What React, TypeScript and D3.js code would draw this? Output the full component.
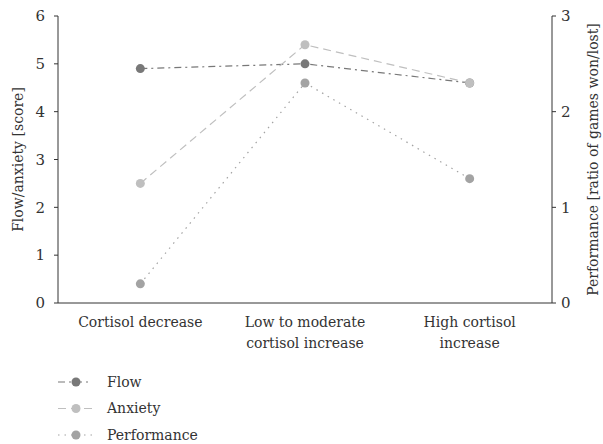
import React from "react";
import * as d3 from "d3";

const categories: string[][] = [
  ["Cortisol decrease"],
  ["Low to moderate", "cortisol increase"],
  ["High cortisol", "increase"],
];
const flowValues = [4.9, 5.0, 4.6];
const anxietyValues = [2.5, 5.4, 4.6];
const performanceValues = [0.2, 2.3, 1.3];
const leftTicks = [0, 1, 2, 3, 4, 5, 6];
const rightTicks = [0, 1, 2, 3];

const W = 603;
const H = 444;
const left = 58;
const right = 552;
const top = 16;
const bottom = 303;
const FONT = "'DejaVu Serif', 'Liberation Serif', 'Times New Roman', Times, serif";

export default function App() {
  const x = d3
    .scaleBand<number>()
    .domain(categories.map((_, i) => i))
    .range([left, right]);
  const yL = d3.scaleLinear().domain([0, 6]).range([bottom, top]);
  const yR = d3.scaleLinear().domain([0, 3]).range([bottom, top]);
  const cx = (i: number) => (x(i) as number) + x.bandwidth() / 2;

  const series = [
    { name: "Flow", values: flowValues, y: yL, color: "#787878", dash: "7,4,2,4" },
    { name: "Performance", values: performanceValues, y: yR, color: "#a3a3a3", dash: "1.5,5" },
    { name: "Anxiety", values: anxietyValues, y: yL, color: "#bfbfbf", dash: "8,5" },
  ];
  const legendOrder = ["Flow", "Anxiety", "Performance"];
  const ts = { fontFamily: FONT };

  return (
    <svg
      width={W}
      height={H}
      style={{ position: "absolute", left: 0, top: 0, background: "#fff", fontFamily: FONT }}
    >
      {/* left axis */}
      <line x1={left} x2={left} y1={top} y2={bottom} stroke="#333" strokeWidth={1} />
      {leftTicks.map((t) => (
        <g key={"l" + t}>
          <line x1={left - 4} x2={left} y1={yL(t)} y2={yL(t)} stroke="#333" />
          <text x={left - 13} y={yL(t)} dy="0.35em" textAnchor="end" fontSize={15} fill="#333" style={ts}>
            {t}
          </text>
        </g>
      ))}
      <text
        transform={`translate(18,${(top + bottom) / 2}) rotate(-90)`}
        textAnchor="middle"
        dy="0.35em"
        fontSize={14}
        fill="#333"
        style={ts}
      >
        Flow/anxiety [score]
      </text>

      {/* right axis */}
      <line x1={right} x2={right} y1={top} y2={bottom} stroke="#333" strokeWidth={1} />
      {rightTicks.map((t) => (
        <g key={"r" + t}>
          <line x1={right} x2={right + 4} y1={yR(t)} y2={yR(t)} stroke="#333" />
          <text x={right + 9} y={yR(t)} dy="0.35em" textAnchor="start" fontSize={15} fill="#333" style={ts}>
            {t}
          </text>
        </g>
      ))}
      <text
        transform={`translate(593,${(top + bottom) / 2}) rotate(-90)`}
        textAnchor="middle"
        dy="0.35em"
        fontSize={14}
        fill="#333"
        style={ts}
      >
        Performance [ratio of games won/lost]
      </text>

      {/* bottom axis */}
      <line x1={left} x2={right} y1={bottom} y2={bottom} stroke="#333" strokeWidth={1} />
      {categories.map((lines, i) => (
        <text key={"c" + i} x={cx(i)} textAnchor="middle" fontSize={14} fill="#333" style={ts}>
          {lines.map((l, j) => (
            <tspan key={j} x={cx(i)} y={327 + j * 21}>
              {l}
            </tspan>
          ))}
        </text>
      ))}

      {/* series */}
      {series.map((s) => {
        const line = d3
          .line<number>()
          .x((_, i) => cx(i))
          .y((v) => s.y(v));
        return (
          <g key={s.name}>
            <path d={line(s.values) || ""} fill="none" stroke={s.color} strokeWidth={1.2} strokeDasharray={s.dash} />
            {s.values.map((v, i) => (
              <circle key={i} cx={cx(i)} cy={s.y(v)} r={4.5} fill={s.color} />
            ))}
          </g>
        );
      })}

      {/* legend */}
      {legendOrder.map((name, k) => {
        const s = series.find((d) => d.name === name)!;
        const ly = 382 + k * 26.5;
        return (
          <g key={"lg" + name}>
            <line x1={58} x2={92} y1={ly} y2={ly} stroke={s.color} strokeWidth={1.2} strokeDasharray={s.dash} />
            <circle cx={76} cy={ly} r={4.5} fill={s.color} />
            <text x={107} y={ly} dy="0.35em" fontSize={14} fill="#333" style={ts}>
              {name}
            </text>
          </g>
        );
      })}
    </svg>
  );
}
